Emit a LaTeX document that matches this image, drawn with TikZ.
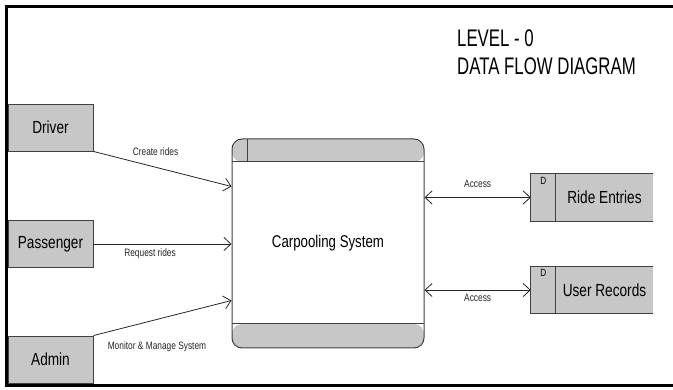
\documentclass[tikz,border=0pt]{standalone}
\usepackage{fontspec}
\setmainfont{Liberation Sans}[FakeStretch=0.78]
\newfontfamily\titlefont{Liberation Sans}[FakeStretch=0.7]
\usetikzlibrary{arrows.meta, calc, positioning}

\begin{document}
\begin{tikzpicture}[x=1pt, y=-1pt,
    >={Straight Barb[length=7pt,width=13pt]},
    entity/.style={draw=black!75, fill=black!22, line width=0.9pt, minimum width=85pt, minimum height=47pt, inner sep=0pt, font=\fontsize{17.5}{20}\selectfont},
    store/.style={fill=black!22, minimum width=97pt, minimum height=47pt, inner sep=0pt, font=\fontsize{17.5}{20}\selectfont},
    edge/.style={draw=black!75, line width=1pt},
    flow/.style={line width=0.8pt, black!85},
    flowlabel/.style={font=\fontsize{10.7}{12}\selectfont, inner sep=1pt},
    heading/.style={anchor=base west, inner sep=0pt, font=\titlefont\fontsize{24}{28}\selectfont}]
\useasboundingbox (0,0) rectangle (673,390);
\draw[line width=3pt] (673,7) -| (6,386) -- (673,386);

\node[heading] (level) at (457,47) {LEVEL - 0};
\node[heading] (dfd) at (457,75) {DATA FLOW DIAGRAM};

\foreach \n/\t/\y in {driver/Driver/127.5, passenger/Passenger/244, admin/Admin/359.5}
    \node[entity] (\n) at (50.5,\y) {\t};

\node[draw=black!75, line width=1pt, rounded corners=10pt, minimum width=192pt, minimum height=209pt,
    font=\fontsize{17}{20}\selectfont,
    path picture={
        \fill[black!22] (path picture bounding box.north west) rectangle ([yshift=-23pt]path picture bounding box.north east);
        \fill[black!22] (path picture bounding box.south west) rectangle ([yshift=24pt]path picture bounding box.south east);
        \draw[edge] ([yshift=-23pt]path picture bounding box.north west) -- ([yshift=-23pt]path picture bounding box.north east);
        \draw[edge] ([yshift=24pt]path picture bounding box.south west) -- ([yshift=24pt]path picture bounding box.south east);
        \draw[edge] ([xshift=15pt]path picture bounding box.north west) -- ([xshift=15pt,yshift=-23pt]path picture bounding box.north west);
    }] (proc) at (328,243.5) {Carpooling System};

\foreach \n/\t/\y in {rides/Ride Entries/197.5, users/User Records/290} {
    \node[store] (\n) at (604.5,\y) {\t};
    \coordinate (\n-in) at ([xshift=-25pt]\n.west);
    \fill[black!22] ([xshift=-25pt]\n.north west) rectangle (\n.south west);
    \draw[edge] (\n.north east) -- ([xshift=-25pt]\n.north west) -- ([xshift=-25pt]\n.south west) -- (\n.south east);
    \draw[edge] (\n.north west) -- (\n.south west);
    \node[font=\fontsize{10.5}{12}\selectfont, inner sep=0pt, anchor=north] (\n-tag) at ([xshift=-12.5pt,yshift=-3pt]\n.north west) {D};
}

\draw[flow, ->] (driver.south east) -- ([yshift=57pt]proc.west) node[flowlabel, pos=0.45, above=10pt] {Create rides};
\draw[flow, ->] (passenger.east) -- (passenger.east -| proc.west) node[flowlabel, pos=0.41, below=3pt] {Request rides};
\draw[flow, ->] (admin.north east) -- ([yshift=-57pt]proc.west) node[flowlabel, pos=0.46, below=21pt] {Monitor \& Manage System};
\draw[flow, <->] (proc.east |- rides-in) -- (rides-in) node[flowlabel, midway, above=8pt] {Access};
\draw[flow, <->] (proc.east |- users-in) -- (users-in) node[flowlabel, midway, below=3pt] {Access};
\end{tikzpicture}
\end{document}
